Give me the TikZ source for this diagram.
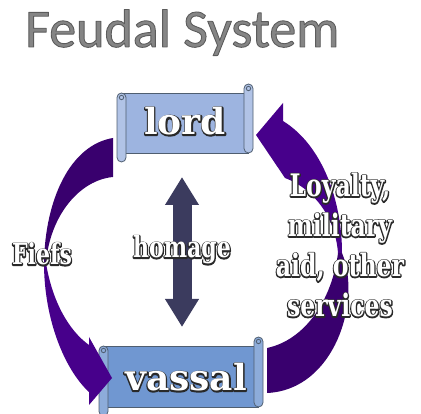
\documentclass[tikz,border=0pt]{standalone}
\usepackage{fontspec}
\usetikzlibrary{arrows.meta}
\newfontfamily\titlefont{Carlito}
\newfontfamily\bannerfont{DejaVu Serif}
\newfontfamily\condfont{DejaVu Serif}[FakeStretch=0.76]
\definecolor{titlegray}{HTML}{858585}
\definecolor{lordblue}{HTML}{9DB4E0}
\definecolor{vassalblue}{HTML}{7097D1}
\definecolor{scrolledge}{HTML}{4F5E70}
\definecolor{banddark}{HTML}{39006E}
\definecolor{bandlight}{HTML}{47008B}
\definecolor{homagenavy}{HTML}{3B3B5E}
% white letters on a dark rim
\newcommand{\outlined}[1]{\rlap{\special{pdf:literal direct 1 Tr 2.4 w 1 j 0.16 G}#1\special{pdf:literal direct 0 Tr}}\textcolor{white}{#1}}
% scroll banner: left, top, right, bottom, colour
\newcommand{\feudscroll}[5]{%
  \filldraw[scrollline,fill=#5] (#1+4.5,#2+9) rectangle (#3-4.5,#4-9);
  \filldraw[scrollline,fill=#5!80!white,rounded corners=4.5pt] (#3-9,#2) rectangle (#3,#4-9);
  \draw[scrollline] (#3-4.5,#2+4.5) circle (2.2pt);
  \filldraw[scrollline,fill=#5!80!white,rounded corners=4.5pt] (#1,#2+9) rectangle (#1+9,#4);
  \draw[scrollline] (#1+4.5,#2+13.5) circle (2.2pt);
}
\begin{document}
\begin{tikzpicture}
[x=1pt,y=-1pt,
  scrollline/.style={draw=scrolledge,line width=0.8pt},
  darkband/.style={fill=banddark},
  lightband/.style={fill=bandlight},
  homagearrow/.style={draw=homagenavy,line width=19pt,
    {Triangle[length=28pt,width=32pt]}-{Triangle[length=28pt,width=32pt]}},
  bannertext/.style={font=\bannerfont\bfseries\fontsize{36}{40}\selectfont,inner sep=0pt},
  labeltext/.style={font=\condfont\bfseries\fontsize{29}{40}\selectfont,inner sep=0pt,align=center}]
\useasboundingbox (0,0) rectangle (421,414);
% title
\node[anchor=base west,inner sep=0pt,font=\titlefont\fontsize{54}{60}\selectfont] (title) at (25,47)
  {\textcolor{titlegray}{\special{pdf:literal direct 2 Tr 0.9 w 1 j 0.36 G}Feudal System\special{pdf:literal direct 0 Tr}}};
% scrolls
\feudscroll{117}{84}{253}{162}{lordblue}
\feudscroll{99}{337}{263}{416}{vassalblue}
% fiefs, lord to vassal
\fill[darkband] (113,138) -- (113,177) .. controls (80,180) and (50,215) .. (46,263)
  -- (44,263) .. controls (45,200) and (70,145) .. cycle;
\fill[lightband] (44,263) .. controls (44,320) and (65,370) .. (89,392) -- (89,405) -- (112,378)
  -- (89,337) -- (89,345) .. controls (68,330) and (52,300) .. (46,263) -- cycle;
% services, vassal to lord
\fill[darkband] (342,253) .. controls (362,300) and (335,390) .. (267,393) -- (267,348)
  .. controls (305,340) and (332,300) .. (338,253) -- cycle;
\fill[lightband] (283,103) -- (283,121) .. controls (322,145) and (342,200) .. (342,253)
  -- (338,253) .. controls (335,215) and (312,188) .. (285,178) -- (256,135) -- cycle;
% homage
\coordinate (hgtop) at (182,177);
\coordinate (hgbot) at (182,327);
\draw[homagearrow] (hgtop) -- (hgbot);
% texts
\node[bannertext,anchor=base] (lord) at (185,135) {\outlined{lord}};
\node[bannertext,anchor=base] (vassal) at (186,391) {\outlined{vassal}};
\node[labeltext,anchor=base] (fiefs) at (42,265) {\outlined{Fiefs}};
\node[labeltext,anchor=base] (homage) at (182,258) {\outlined{homage}};
\node[labeltext,font=\condfont\bfseries\fontsize{31}{40}\selectfont,anchor=north] (services) at (340,173)
  {\outlined{Loyalty,}\\\outlined{military}\\\outlined{aid, other}\\\outlined{services}};
\end{tikzpicture}
\end{document}
